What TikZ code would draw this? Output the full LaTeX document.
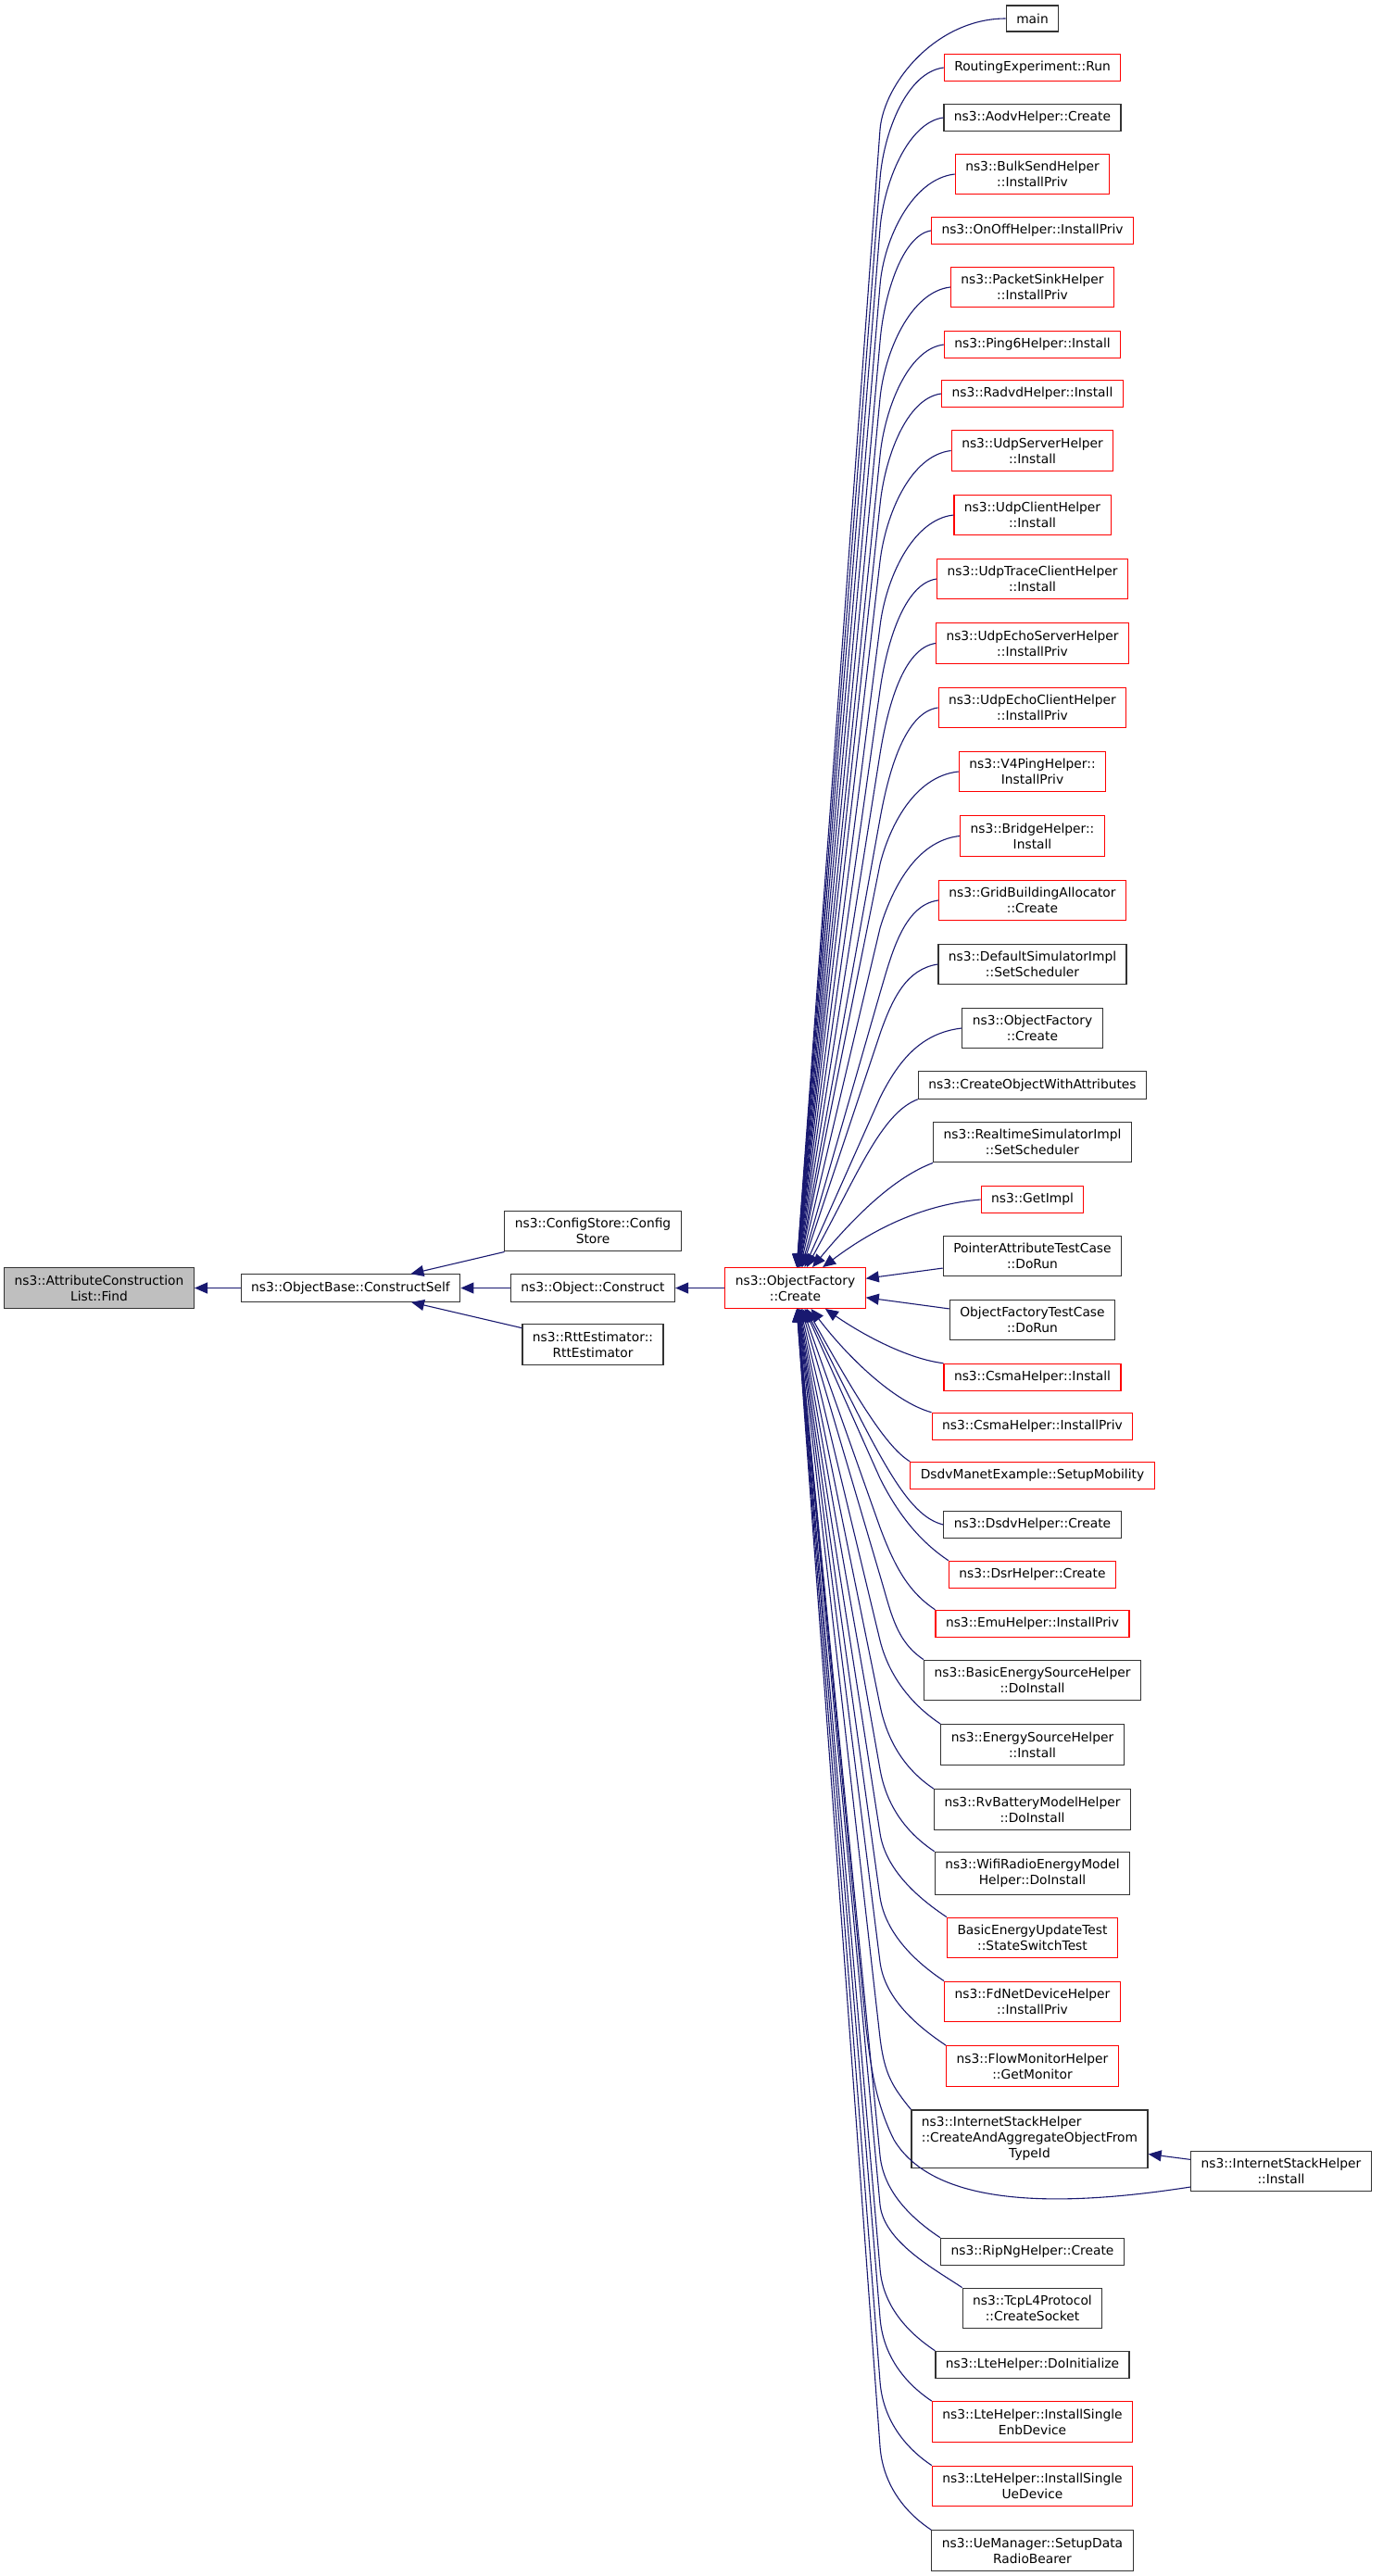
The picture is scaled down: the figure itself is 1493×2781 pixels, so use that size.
\documentclass[tikz,border=0pt]{standalone}
\usepackage{fontspec}
\setmainfont{DejaVu Sans}
\usetikzlibrary{arrows.meta}
\definecolor{edgeblue}{RGB}{25,25,112}
\definecolor{rootgray}{RGB}{191,191,191}
\newcommand\fs{\fontsize{6.9pt}{8.5pt}\selectfont}

\begin{document}
\begin{tikzpicture}[x=0.5pt, y=-0.5pt, fn/.style={draw=black!80, fill=white, line width=0.6pt, inner xsep=5.5pt, inner ysep=4pt, minimum height=14pt, align=center, font=\fs}, trunc/.style={fn, draw=red}, arr/.style={-{Triangle[length=7pt,width=6pt]}, line width=0.55pt, draw=edgeblue}]
\useasboundingbox (0,0) rectangle (1493,2781);
% left part
\node[fn, fill=rootgray] (find) at (107,1390.5) {ns3::AttributeConstruction\\List::Find}; \node[fn] (cself) at (378.5,1390.5) {ns3::ObjectBase::ConstructSelf}; \node[fn] (cstore) at (640,1329) {ns3::ConfigStore::Config\\Store}; \node[fn] (oconstruct) at (640,1390.5) {ns3::Object::Construct}; \node[fn] (rtt) at (640,1451.5) {ns3::RttEstimator::\\RttEstimator};
\node[trunc] (create) at (858.5,1390.5) {ns3::ObjectFactory\\::Create};
% callers of ObjectFactory::Create
\node[fn] (main) at (1114.5,20) {main}; \node[trunc] (runexp) at (1114.5,73) {RoutingExperiment::Run}; \node[fn] (aodv) at (1114.5,127) {ns3::AodvHelper::Create}; \node[trunc] (bulksend) at (1114.5,188) {ns3::BulkSendHelper\\::InstallPriv}; \node[trunc] (onoff) at (1114.5,249) {ns3::OnOffHelper::InstallPriv}; \node[trunc] (pktsink) at (1114.5,310) {ns3::PacketSinkHelper\\::InstallPriv};
\node[trunc] (ping6) at (1114.5,372) {ns3::Ping6Helper::Install}; \node[trunc] (radvd) at (1114.5,425) {ns3::RadvdHelper::Install}; \node[trunc] (udpsrv) at (1114.5,486.5) {ns3::UdpServerHelper\\::Install}; \node[trunc] (udpcli) at (1114.5,556) {ns3::UdpClientHelper\\::Install}; \node[trunc] (udptrace) at (1114.5,625) {ns3::UdpTraceClientHelper\\::Install};
\node[trunc] (echosrv) at (1114.5,694.5) {ns3::UdpEchoServerHelper\\::InstallPriv}; \node[trunc] (echocli) at (1114.5,764) {ns3::UdpEchoClientHelper\\::InstallPriv}; \node[trunc] (v4ping) at (1114.5,833) {ns3::V4PingHelper::\\InstallPriv}; \node[trunc] (bridge) at (1114.5,902.5) {ns3::BridgeHelper::\\Install}; \node[trunc] (gridalloc) at (1114.5,972) {ns3::GridBuildingAllocator\\::Create};
\node[fn] (defsched) at (1114.5,1041) {ns3::DefaultSimulatorImpl\\::SetScheduler}; \node[fn] (ofcreate) at (1114.5,1110) {ns3::ObjectFactory\\::Create}; \node[fn] (cowa) at (1114.5,1171.5) {ns3::CreateObjectWithAttributes}; \node[fn] (rtsched) at (1114.5,1233) {ns3::RealtimeSimulatorImpl\\::SetScheduler}; \node[trunc] (getimpl) at (1114.5,1295) {ns3::GetImpl};
\node[fn] (ptrtest) at (1114.5,1356) {PointerAttributeTestCase\\::DoRun}; \node[fn] (oftest) at (1114.5,1425) {ObjectFactoryTestCase\\::DoRun}; \node[trunc] (csmainst) at (1114.5,1487) {ns3::CsmaHelper::Install}; \node[trunc] (csmapriv) at (1114.5,1540) {ns3::CsmaHelper::InstallPriv}; \node[trunc] (dsdvmob) at (1114.5,1593) {DsdvManetExample::SetupMobility};
\node[fn] (dsdv) at (1114.5,1646) {ns3::DsdvHelper::Create}; \node[trunc] (dsr) at (1114.5,1700) {ns3::DsrHelper::Create}; \node[trunc] (emu) at (1114.5,1753) {ns3::EmuHelper::InstallPriv}; \node[fn] (besh) at (1114.5,1814) {ns3::BasicEnergySourceHelper\\::DoInstall}; \node[fn] (esh) at (1114.5,1883.5) {ns3::EnergySourceHelper\\::Install};
\node[fn] (rvb) at (1114.5,1953.5) {ns3::RvBatteryModelHelper\\::DoInstall}; \node[fn] (wifirem) at (1114.5,2022.5) {ns3::WifiRadioEnergyModel\\Helper::DoInstall}; \node[trunc] (beut) at (1114.5,2092) {BasicEnergyUpdateTest\\::StateSwitchTest}; \node[trunc] (fdnet) at (1114.5,2161) {ns3::FdNetDeviceHelper\\::InstallPriv}; \node[trunc] (flowmon) at (1114.5,2230.5) {ns3::FlowMonitorHelper\\::GetMonitor};
\node[fn, inner ysep=2.8pt] (isca) at (1111.5,2309) {\begin{tabular}{@{}l@{}}ns3::InternetStackHelper\\::CreateAndAggregateObjectFrom\\\multicolumn{1}{@{}c@{}}{TypeId}\end{tabular}}; \node[fn] (isinst) at (1383,2344) {ns3::InternetStackHelper\\::Install};
\node[fn] (ripng) at (1114.5,2431) {ns3::RipNgHelper::Create}; \node[fn] (tcpsock) at (1114.5,2492) {ns3::TcpL4Protocol\\::CreateSocket}; \node[fn] (lteinit) at (1114.5,2553) {ns3::LteHelper::DoInitialize}; \node[trunc] (lteenb) at (1114.5,2614.5) {ns3::LteHelper::InstallSingle\\EnbDevice}; \node[trunc] (lteue) at (1114.5,2684) {ns3::LteHelper::InstallSingle\\UeDevice}; \node[fn] (uemgr) at (1114.5,2753.5) {ns3::UeManager::SetupData\\RadioBearer};
% left edges
\draw[arr] (cself) -- (find); \draw[arr] (cstore) -- (cself); \draw[arr] (oconstruct) -- (cself); \draw[arr] (rtt) -- (cself); \draw[arr] (create) -- (oconstruct);
% edges from above
\draw[arr] (main.west) .. controls +(-75,0) and (954,90) .. (950,140) -- (create); \draw[arr] (runexp.west) .. controls +(-40,5) and (954,143) .. (950,193) -- (create); \draw[arr] (aodv.west) .. controls +(-38,5) and (954,197) .. (950,247) -- (create); \draw[arr] (bulksend.west) .. controls +(-46,5) and (954,258) .. (950,308) -- (create); \draw[arr] (onoff.west) .. controls +(-31,5) and (954,319) .. (950,369) -- (create);
\draw[arr] (pktsink.west) .. controls +(-43,5) and (955,380) .. (950,430) -- (create); \draw[arr] (ping6.west) .. controls +(-39,5) and (955,442) .. (950,492) -- (create); \draw[arr] (radvd.west) .. controls +(-38,5) and (955,495) .. (950,545) -- (create); \draw[arr] (udpsrv.west) .. controls +(-44,5) and (956,556) .. (950,606) -- (create); \draw[arr] (udpcli.west) .. controls +(-45,5) and (956,626) .. (950,676) -- (create);
\draw[arr] (udptrace.west) .. controls +(-35,5) and (957,695) .. (950,745) -- (create); \draw[arr] (echosrv.west) .. controls +(-35,5) and (958,764) .. (950,814) -- (create); \draw[arr] (echocli.west) .. controls +(-36,5) and (959,834) .. (950,884) -- (create); \draw[arr] (v4ping.west) .. controls +(-48,5) and (960,893) .. (950,933) -- (create); \draw[arr] (bridge.west) .. controls +(-48,5) and (962,962) .. (950,1002) -- (create);
\draw[arr] (gridalloc.west) .. controls +(-38,5) and (962,1032) .. (950,1072) -- (create); \draw[arr] (defsched.west) .. controls +(-33,5) and (964,1076) .. (950,1116) -- (create); \draw[arr] (ofcreate.west) .. controls +(-44,5) and (970,1145) .. (950,1185) -- (create);
\draw[arr] (cowa.south west) .. controls +(-40,15) and (925,1270) .. (create); \draw[arr] (rtsched.south west) .. controls +(-40,15) and (925,1310) .. (create); \draw[arr] (getimpl.west) .. controls +(-60,5) and (945,1325) .. (create); \draw[arr] (ptrtest) -- (create); \draw[arr] (oftest) -- (create);
% edges from below
\draw[arr] (csmainst.north west) .. controls +(-40,-5) and (930,1440) .. (create); \draw[arr] (csmapriv.north west) .. controls +(-40,-11) and (915,1465) .. (create); \draw[arr] (dsdvmob.north west) .. controls +(-25,-15) and (925,1510) .. (create); \draw[arr] (dsdv.west) .. controls +(-40,-10) and (950,1575) .. (create);
\draw[arr] (dsr.north west) .. controls +(-30,-20) and (970,1636) .. (950,1596) -- (create); \draw[arr] (emu.north west) .. controls +(-30,-20) and (965,1689) .. (950,1649) -- (create); \draw[arr] (besh.north west) .. controls +(-30,-20) and (962,1741) .. (950,1701) -- (create); \draw[arr] (esh.north west) .. controls +(-30,-20) and (960,1811) .. (950,1771) -- (create);
\draw[arr] (rvb.north west) .. controls +(-30,-20) and (958,1881) .. (950,1841) -- (create); \draw[arr] (wifirem.north west) .. controls +(-30,-20) and (957,1950) .. (950,1910) -- (create); \draw[arr] (beut.north west) .. controls +(-30,-20) and (956,2019) .. (950,1979) -- (create); \draw[arr] (fdnet.north west) .. controls +(-30,-20) and (956,2088) .. (950,2048) -- (create);
\draw[arr] (flowmon.north west) .. controls +(-30,-20) and (955,2158) .. (950,2118) -- (create); \draw[arr] (isca.north west) .. controls +(-20,-25) and (955,2240) .. (950,2200) -- (create); \draw[arr] (isinst) -- (isca); \draw[arr] ([yshift=-8.5pt]isinst.west) .. controls (1150,2382) and (1010,2385) .. (965,2310) .. controls (945,2270) and (940,2230) .. (935,2190) -- (create);
\draw[arr] (ripng.north west) .. controls +(-30,-20) and (954,2367) .. (950,2327) -- (create); \draw[arr] (tcpsock.north west) .. controls +(-30,-20) and (954,2420) .. (950,2380) -- (create); \draw[arr] (lteinit.north west) .. controls +(-30,-20) and (953,2489) .. (950,2449) -- (create);
\draw[arr] (lteenb.north west) .. controls +(-30,-20) and (953,2542) .. (950,2502) -- (create); \draw[arr] (lteue.north west) .. controls +(-30,-20) and (953,2611) .. (950,2571) -- (create); \draw[arr] (uemgr.north west) .. controls +(-30,-20) and (953,2681) .. (950,2641) -- (create);
\end{tikzpicture}
\end{document}
